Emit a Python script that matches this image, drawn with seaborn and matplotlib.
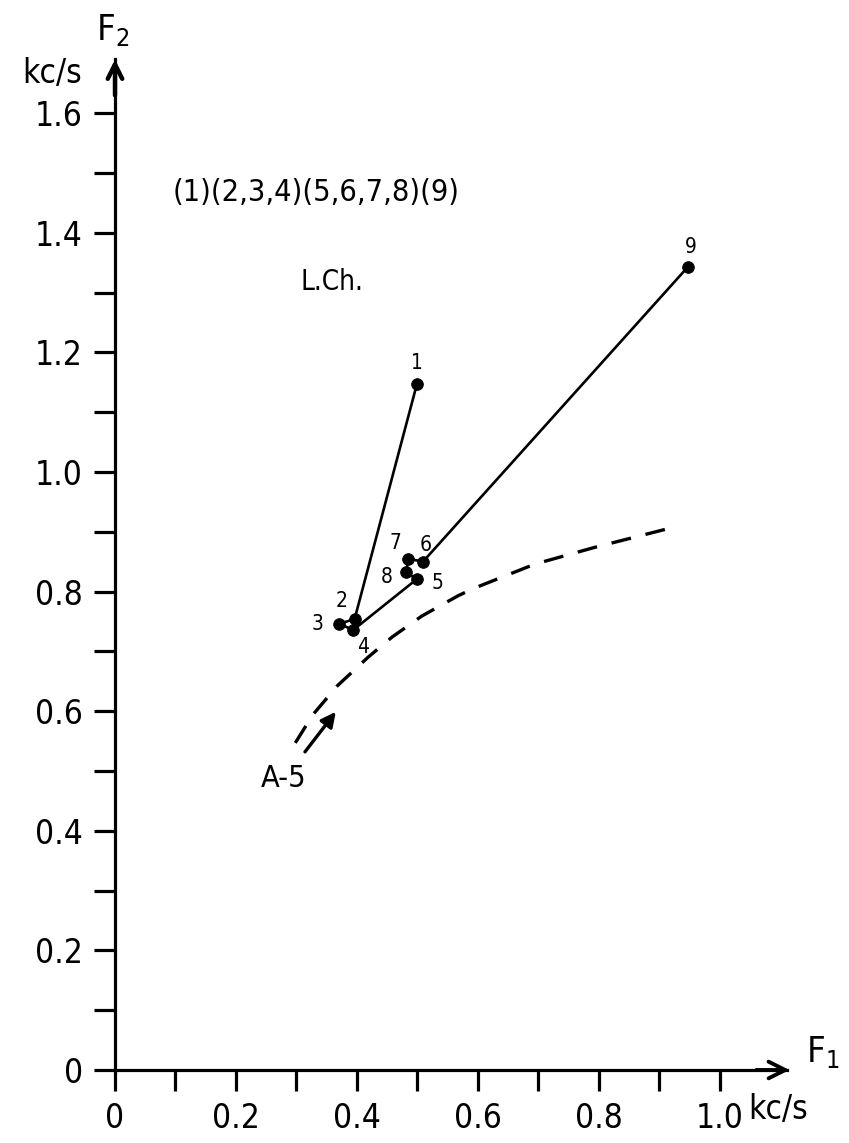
import matplotlib
matplotlib.use("Agg")
import matplotlib.pyplot as plt
import seaborn as sns
import pandas as pd
import numpy as np

# ---- data ----
point_labels = ["1", "2", "3", "4", "5", "8", "7", "6", "9"]   # drawing order of the path
f1_values = [0.499, 0.396, 0.370, 0.394, 0.499, 0.481, 0.485, 0.509, 0.947]
f2_values = [1.147, 0.754, 0.746, 0.736, 0.821, 0.832, 0.855, 0.850, 1.343]

curve_f1 = [0.298, 0.327, 0.367, 0.418, 0.458, 0.507, 0.567, 0.592, 0.694, 0.793, 0.917]
curve_f2 = [0.547, 0.594, 0.642, 0.690, 0.724, 0.759, 0.793, 0.805, 0.846, 0.874, 0.906]

x_ticks = [0.0, 0.1, 0.2, 0.3, 0.4, 0.5, 0.6, 0.7, 0.8, 0.9, 1.0]
x_tick_labels = ["0", "", "0.2", "", "0.4", "", "0.6", "", "0.8", "", "1.0"]
y_ticks = [0.0, 0.1, 0.2, 0.3, 0.4, 0.5, 0.6, 0.7, 0.8, 0.9, 1.0, 1.1, 1.2, 1.3, 1.4, 1.5, 1.6]
y_tick_labels = ["0", "", "0.2", "", "0.4", "", "0.6", "", "0.8", "", "1.0", "", "1.2", "", "1.4", "", "1.6"]

group_text = "(1)(2,3,4)(5,6,7,8)(9)"
speaker_text = "L.Ch."
curve_label = "A-5"

sns.set_theme(style="white")
plt.rcParams["font.family"] = ["DejaVu Sans"]
plt.rcParams["font.stretch"] = "condensed"
plt.rcParams["text.color"] = "black"
plt.rcParams["xtick.color"] = "black"
plt.rcParams["ytick.color"] = "black"

fig = plt.figure(figsize=(8.49, 11.43), dpi=100)
W, H = 849, 1143
x0px, y0px = 115, 1070
pxx, pxy = 605.0, 598.0
xmax, ymax = 1.11, 1.69
ax = fig.add_axes([x0px / W, 1 - y0px / H, xmax * pxx / W, ymax * pxy / H])
ax.set_xlim(0, xmax)
ax.set_ylim(0, ymax)
ax.set_facecolor("white")

df = pd.DataFrame({"F1": f1_values, "F2": f2_values, "label": point_labels})
cdf = pd.DataFrame({"F1": curve_f1, "F2": curve_f2})

sns.lineplot(data=df, x="F1", y="F2", sort=False, estimator=None, color="black",
             lw=1.9, ax=ax, zorder=3)
sns.scatterplot(data=df, x="F1", y="F2", color="black", s=70, edgecolor="black",
                ax=ax, zorder=4)
sns.lineplot(data=cdf, x="F1", y="F2", sort=False, estimator=None, color="black",
             lw=2.4, ax=ax, zorder=3, dashes=False)
ax.lines[-1].set_dashes((6, 4.5))

# point labels
offsets = {"1": (0, 15, "center"), "2": (-9, 13, "center"), "3": (-15, 0, "center"),
           "4": (7, -12, "center"), "5": (15, -3, "center"), "8": (-14, -3, "center"),
           "7": (-9, 11, "center"), "6": (2, 12, "center"), "9": (2, 14, "center")}
for lab, xv, yv in zip(point_labels, f1_values, f2_values):
    dx, dy, ha = offsets[lab]
    ax.annotate(lab, (xv, yv), xytext=(dx, dy), textcoords="offset points",
                ha=ha, va="center", fontsize=15, color="black")

# arrow near curve label
ax.annotate("", xy=(0.365, 0.599), xytext=(0.314, 0.532),
            arrowprops=dict(arrowstyle="-|>", lw=2.4, color="black", mutation_scale=22,
                            shrinkA=0, shrinkB=0))
ax.text(0.278, 0.488, curve_label, fontsize=22, ha="center", va="center")
ax.text(0.332, 1.468, group_text, fontsize=22, ha="center", va="center")
ax.text(0.359, 1.318, speaker_text, fontsize=20, ha="center", va="center")

# axes styling
for s in ["top", "right"]:
    ax.spines[s].set_visible(False)
for s in ["left", "bottom"]:
    ax.spines[s].set_linewidth(2.3)
    ax.spines[s].set_color("black")
ax.set_xticks(x_ticks)
ax.set_xticklabels(x_tick_labels)
ax.set_yticks(y_ticks)
ax.set_yticklabels(y_tick_labels)
ax.tick_params(axis="both", which="major", direction="out", length=15, width=2.3,
               color="black", labelsize=24, labelcolor="black", pad=8,
               bottom=True, left=True, top=False, right=False)
ax.set_xlabel("")
ax.set_ylabel("")

# axis arrowheads
ax.annotate("", xy=(1.115, 0), xytext=(1.06, 0), xycoords="data",
            arrowprops=dict(arrowstyle="->", lw=2.8, color="black", mutation_scale=30,
                            shrinkA=0, shrinkB=0), annotation_clip=False)
ax.annotate("", xy=(0, 1.69), xytext=(0, 1.63), xycoords="data",
            arrowprops=dict(arrowstyle="->", lw=3.2, color="black", mutation_scale=26,
                            shrinkA=0, shrinkB=0), annotation_clip=False)

# axis titles
fig.text(806 / W, 1 - 1052 / H, "F$_1$", fontsize=26, ha="left", va="center")
fig.text(748 / W, 1 - 1110 / H, "kc/s", fontsize=24, ha="left", va="center")
fig.text(96 / W, 1 - 30 / H, "F$_2$", fontsize=26, ha="left", va="center")
fig.text(52 / W, 1 - 74 / H, "kc/s", fontsize=24, ha="center", va="center")

fig.savefig("out.png", dpi=100, facecolor="white")
